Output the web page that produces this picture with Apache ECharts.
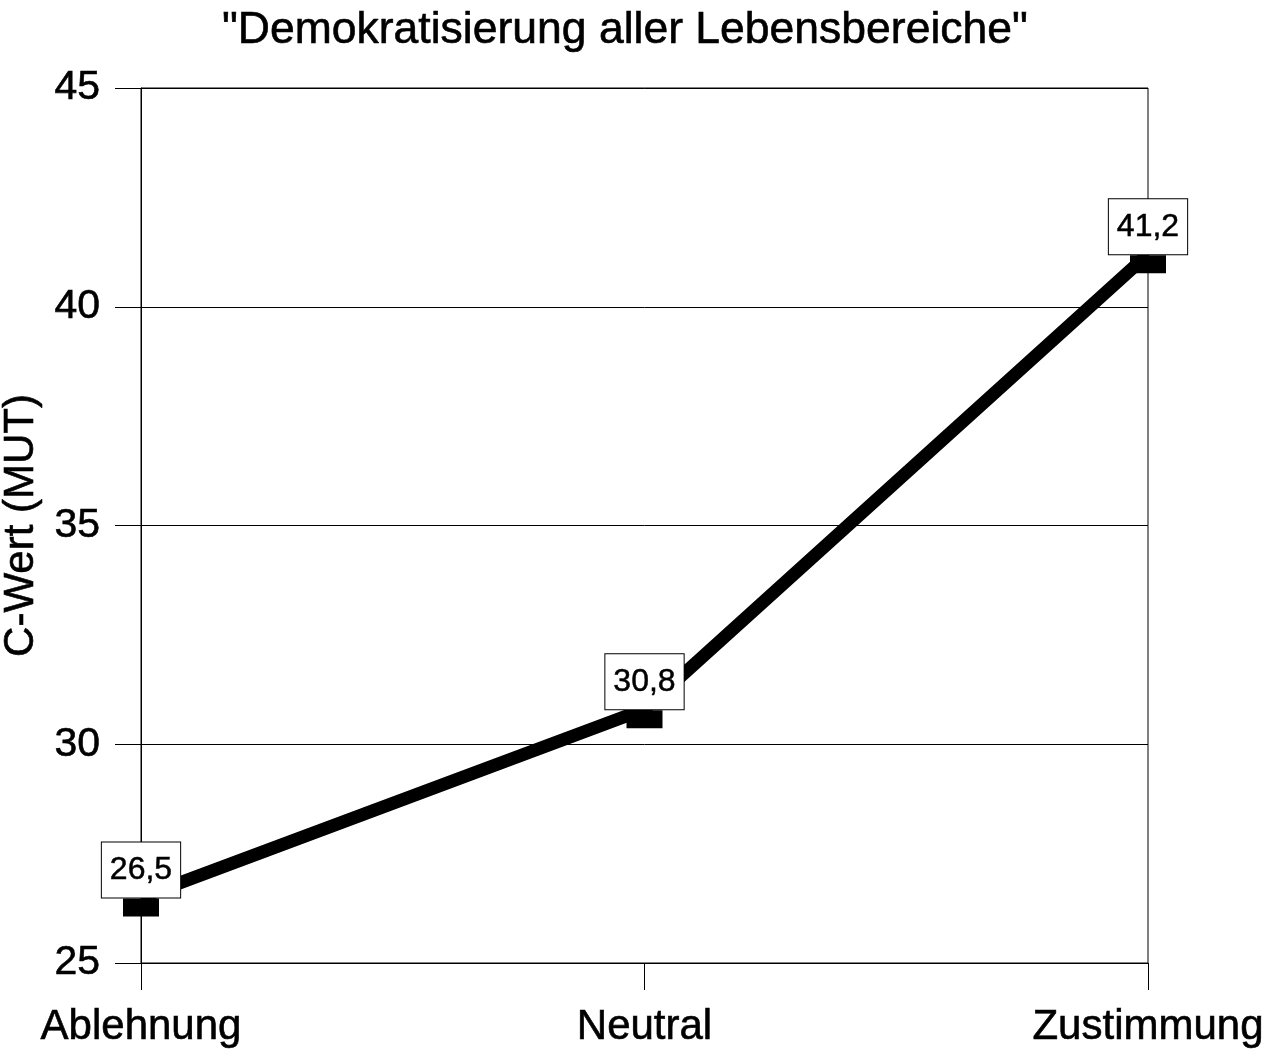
<!DOCTYPE html>
<html>
<head>
<meta charset="utf-8">
<script src="https://cdn.jsdelivr.net/npm/echarts@6/dist/echarts.min.js"></script>
<style>
html,body{margin:0;padding:0;background:#fff;}
#chart{width:1281px;height:1058px;}
</style>
</head>
<body>
<div id="chart"></div>
<script>
const titleText = '"Demokratisierung aller Lebensbereiche"';
const yAxisName = 'C-Wert (MUT)';
const categories = ['Ablehnung', 'Neutral', 'Zustimmung'];
const values = [26.5, 30.8, 41.2];
const yMin = 25, yMax = 45, yInterval = 5;

const FONT = '"Liberation Sans", Arial, sans-serif';
const heavy = {textBorderColor: '#000', textBorderWidth: 0.6};
const chart = echarts.init(document.getElementById('chart'), null, {renderer: 'canvas'});
chart.setOption({
  backgroundColor: '#fff',
  animation: false,
  title: {
    text: titleText,
    left: 217,
    top: 3,
    textStyle: Object.assign({fontFamily: FONT, fontSize: 44.5, fontWeight: 'normal', color: '#000'}, heavy)
  },
  grid: {
    left: 141, right: 133, top: 88, bottom: 95,
    outerBoundsMode: 'none',
    containLabel: false,
    show: true, borderColor: '#000', borderWidth: 1, backgroundColor: 'transparent'
  },
  xAxis: {
    type: 'category',
    data: categories,
    boundaryGap: false,
    axisLine: {show: true, lineStyle: {color: '#000', width: 1}},
    axisTick: {show: true, length: 27, alignWithLabel: true, lineStyle: {color: '#000', width: 1}},
    axisLabel: Object.assign({margin: 43, fontFamily: FONT, fontSize: 42, color: '#000'}, heavy),
    splitLine: {show: false}
  },
  yAxis: {
    type: 'value',
    min: yMin, max: yMax, interval: yInterval,
    name: yAxisName,
    nameLocation: 'middle',
    nameGap: 91,
    nameRotate: 90,
    nameTextStyle: Object.assign({fontFamily: FONT, fontSize: 42, color: '#000'}, heavy),
    axisLine: {show: true, lineStyle: {color: '#000', width: 1}},
    axisTick: {show: true, length: 26, lineStyle: {color: '#000', width: 1}},
    axisLabel: Object.assign({margin: 41, fontFamily: FONT, fontSize: 41, color: '#000'}, heavy),
    splitLine: {show: true, lineStyle: {color: '#000', width: 1}}
  },
  series: [{
    type: 'line',
    data: values,
    lineStyle: {color: '#000', width: 13},
    itemStyle: {color: '#000'},
    symbol: 'rect',
    symbolSize: [36, 18],
    symbolOffset: [0, 10],
    showAllSymbol: true,
    label: Object.assign({
      show: true,
      position: 'top',
      distance: 1,
      formatter: p => String(p.value).replace('.', ','),
      fontFamily: FONT,
      fontSize: 32,
      lineHeight: 33,
      color: '#000',
      backgroundColor: '#fff',
      borderColor: '#000',
      borderWidth: 1,
      padding: [11, 8, 11, 8]
    }, {textBorderColor: '#000', textBorderWidth: 0.5})
  }]
});
</script>
</body>
</html>
